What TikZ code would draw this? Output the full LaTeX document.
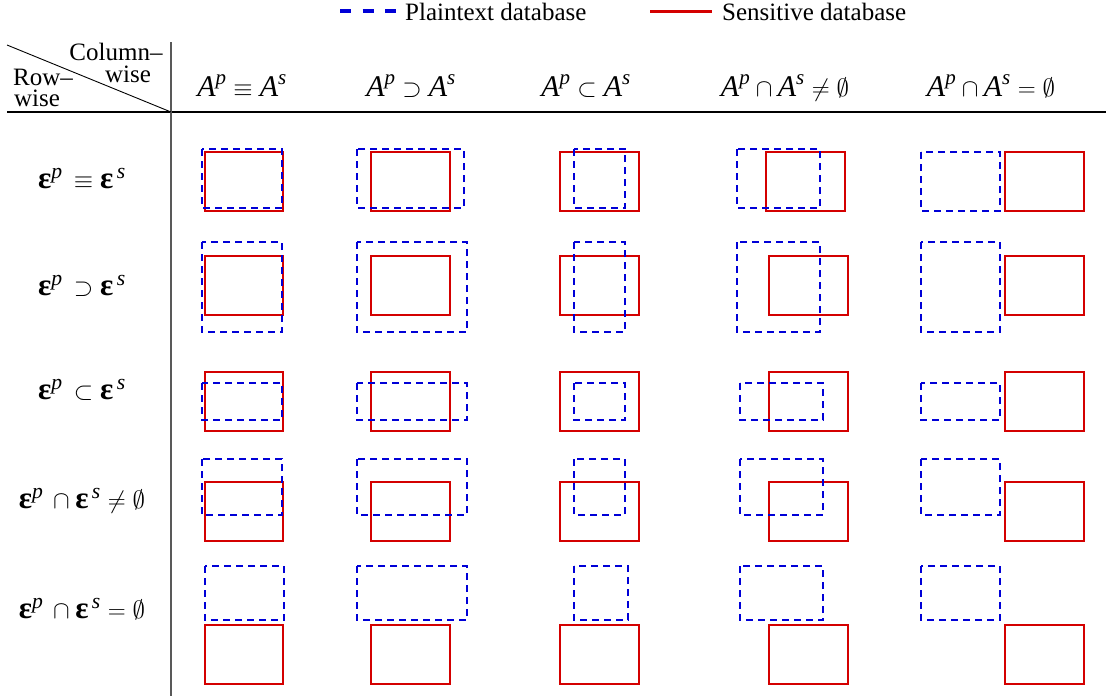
\documentclass[tikz,border=0pt]{standalone}
\usepackage{fontspec}
\usepackage{amsmath}
\setmainfont{Liberation Serif}
\definecolor{sred}{RGB}{212,0,0}
\definecolor{pblue}{RGB}{0,0,215}
\tikzset{
  srect/.style={draw=sred, line width=1.4pt},
  prect/.style={draw=pblue, line width=1.4pt, dash pattern=on 7pt off 5pt},
  txt/.style={inner sep=0pt, anchor=base, font=\fontsize{25}{30}\selectfont},
  ctxt/.style={txt, text height=16pt, text depth=3pt},
  hdr/.style={inner sep=0pt, anchor=base, font=\fontsize{30}{34}\selectfont},
  rlab/.style={inner sep=0pt, anchor=base, font=\fontsize{31}{35}\selectfont},
}
\newcommand{\eps}{\text{\textbf{ε}}}
\begin{document}
\begin{tikzpicture}[x=1pt, y=-1pt]
\useasboundingbox (0,0) rectangle (1106,696);
% legend
\coordinate (lb1) at (340,11);
\coordinate (lb2) at (396,11);
\draw[pblue, line width=3.5pt, dash pattern=on 11pt off 11.5pt] (lb1) -- (lb2);
\node[txt, anchor=base west] (lbt) at (405,20) {Plaintext database};
\coordinate (lr1) at (650,11);
\coordinate (lr2) at (712,11);
\draw[sred, line width=3pt] (lr1) -- (lr2);
\node[txt, anchor=base west] (lrt) at (722,20) {Sensitive database};
% table rules
\coordinate (hl) at (7,112);
\coordinate (hr) at (1106,112);
\coordinate (vt) at (171,42);
\coordinate (vb) at (171,696);
\coordinate (dg) at (7,45);
\coordinate (dc) at (171,112);
\draw[line width=1.1pt] (hl) -- (hr);
\draw[line width=1.1pt, black!65] (vt) -- (vb);
\draw[line width=0.9pt] (dg) -- (dc);
% corner labels
\node[ctxt] (c1) at (116,60) {Column--};
\node[ctxt] (c2) at (128,82) {wise};
\node[ctxt] (r1) at (43,85) {Row--};
\node[ctxt] (r2) at (37,106) {wise};
% column headers
\node[hdr] (h1) at (242,96) {$\textit{A}^{\textit{p}} \equiv \textit{A}^{\textit{s}}$};
\node[hdr] (h2) at (411,96) {$\textit{A}^{\textit{p}} \supset \textit{A}^{\textit{s}}$};
\node[hdr] (h3) at (586,96) {$\textit{A}^{\textit{p}} \subset \textit{A}^{\textit{s}}$};
\node[hdr] (h4) at (785,96) {$\textit{A}^{\textit{p}} \cap \textit{A}^{\textit{s}} \neq \emptyset$};
\node[hdr] (h5) at (991,96) {$\textit{A}^{\textit{p}} \cap \textit{A}^{\textit{s}} = \emptyset$};
% row labels
\node[rlab] (l1) at (82,188) {$\eps^{\textit{p}}\, \equiv \eps^{\,\textit{s}}$};
\node[rlab] (l2) at (82,295) {$\eps^{\textit{p}}\, \supset \eps^{\,\textit{s}}$};
\node[rlab] (l3) at (82,399) {$\eps^{\textit{p}}\, \subset \eps^{\,\textit{s}}$};
\node[rlab] (l4) at (82,508) {$\eps^{\textit{p}}\, \cap \eps^{\,\textit{s}} \neq \emptyset$};
\node[rlab] (l5) at (82,618) {$\eps^{\textit{p}}\, \cap \eps^{\,\textit{s}} = \emptyset$};
% row 1
\draw[srect] (205,152) rectangle (283,211);
\draw[prect] (202,149) rectangle (282,208);
\draw[srect] (371,152) rectangle (450,211);
\draw[prect] (357,149) rectangle (464,208);
\draw[srect] (560,152) rectangle (639,211);
\draw[prect] (574,149) rectangle (625,208);
\draw[srect] (766,152) rectangle (845,211);
\draw[prect] (737,149) rectangle (820,208);
\draw[srect] (1005,152) rectangle (1084,211);
\draw[prect] (921,152) rectangle (1000,211);
% row 2
\draw[srect] (205,256) rectangle (283,315);
\draw[prect] (202,242) rectangle (282,332);
\draw[srect] (371,256) rectangle (450,315);
\draw[prect] (357,242) rectangle (467,332);
\draw[srect] (560,256) rectangle (639,315);
\draw[prect] (574,242) rectangle (625,332);
\draw[srect] (769,256) rectangle (848,315);
\draw[prect] (737,242) rectangle (820,332);
\draw[srect] (1005,256) rectangle (1084,315);
\draw[prect] (921,242) rectangle (1000,332);
% row 3
\draw[srect] (205,372) rectangle (283,431);
\draw[prect] (202,383) rectangle (282,420);
\draw[srect] (371,372) rectangle (450,431);
\draw[prect] (357,383) rectangle (467,420);
\draw[srect] (560,372) rectangle (639,431);
\draw[prect] (574,383) rectangle (625,420);
\draw[srect] (769,372) rectangle (848,431);
\draw[prect] (740,383) rectangle (823,420);
\draw[srect] (1005,372) rectangle (1084,431);
\draw[prect] (921,383) rectangle (1000,420);
% row 4
\draw[srect] (205,482) rectangle (283,541);
\draw[prect] (202,459) rectangle (282,515);
\draw[srect] (371,482) rectangle (450,541);
\draw[prect] (357,459) rectangle (467,515);
\draw[srect] (560,482) rectangle (639,541);
\draw[prect] (574,459) rectangle (625,515);
\draw[srect] (769,482) rectangle (848,541);
\draw[prect] (740,459) rectangle (823,515);
\draw[srect] (1005,482) rectangle (1084,541);
\draw[prect] (921,459) rectangle (1000,515);
% row 5
\draw[srect] (205,625) rectangle (283,684);
\draw[prect] (205,566) rectangle (284,620);
\draw[srect] (371,625) rectangle (450,684);
\draw[prect] (357,566) rectangle (467,620);
\draw[srect] (560,625) rectangle (639,684);
\draw[prect] (574,566) rectangle (628,620);
\draw[srect] (769,625) rectangle (848,684);
\draw[prect] (740,566) rectangle (823,620);
\draw[srect] (1005,625) rectangle (1084,684);
\draw[prect] (921,566) rectangle (1000,620);
\end{tikzpicture}
\end{document}
